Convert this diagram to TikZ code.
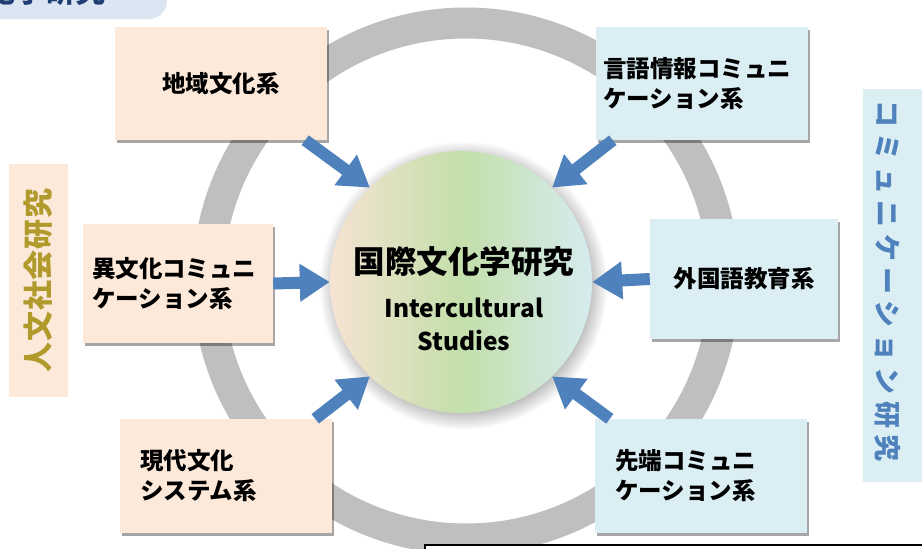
\documentclass[tikz,border=0pt]{standalone}
\usepackage{fontspec}
\setmainfont{Noto Sans CJK JP}
\newfontfamily\spacedfont{Noto Sans CJK JP}[LetterSpace=24]
\newfontfamily\leftlabfont{Noto Sans CJK JP}[LetterSpace=3]
\usetikzlibrary{arrows.meta,shadows,calc}
\definecolor{peach}{HTML}{FDE9DA}
\definecolor{paleblue}{HTML}{DAEEF3}
\definecolor{ringgray}{HTML}{BFBFBF}
\definecolor{arrowblue}{HTML}{4F81BD}
\definecolor{olive}{HTML}{B09A2B}
\definecolor{tabblue}{HTML}{DCE6F2}
\definecolor{navy}{HTML}{1F3F74}
\definecolor{cpeach}{HTML}{F6E3D2}
\definecolor{cgreen}{HTML}{C3DFAA}
\definecolor{cblue}{HTML}{D6EBEF}
\begin{document}
\begin{tikzpicture}[x=1pt,y=-1pt,
  boxbase/.style={rectangle, inner ysep=0pt, font=\bfseries\fontsize{23.5}{30}\selectfont,
    drop shadow={shadow xshift=2pt, shadow yshift=-3pt, opacity=0.35, fill=black}},
  pbox/.style={boxbase, fill=peach},
  bbox/.style={boxbase, fill=paleblue},
  arr/.style={draw=arrowblue, line width=12pt, -{Triangle[length=30pt,width=36pt]}}]
\clip (0,0) rectangle (922,549);
% ring
\draw[ringgray, line width=31pt] (466,281) circle[radius=258];
% top-left tab
\fill[tabblue, rounded corners=18pt] (-40,-80) rectangle (167,19);
\node[anchor=south east, inner sep=0pt, text=navy, font=\bfseries\fontsize{30}{30}\selectfont] (tab) at (106,6) {国際文化学研究};
% side labels
\node[fill=peach, minimum width=59pt, minimum height=233pt, inner sep=0pt] (lbox) at (38.5,280.5) {};
\node[rotate=90, text=olive, font=\leftlabfont\bfseries\fontsize{30}{30}\selectfont] (llab) at (lbox.center) {人文社会研究};
\node[fill=paleblue, minimum width=70pt, minimum height=393pt, inner sep=0pt] (rbox) at (898,285.5) {};
\node[rotate=-90, text=arrowblue, font=\spacedfont\bfseries\fontsize{27}{27}\selectfont] (rlab) at (888,281) {コミュニケーション研究};
% boxes
\node[pbox, minimum width=212pt, minimum height=113pt] (b1) at (221,83.5) {地域文化系};
\node[pbox, minimum width=190pt, minimum height=119pt, text width=172pt, inner xsep=9pt, align=left] (b2) at (178,283.5) {異文化コミュニ\\ケーション系};
\node[pbox, minimum width=212pt, minimum height=114pt, text width=172pt, inner xsep=20pt, align=left] (b3) at (226,476) {現代文化\\システム系};
\node[bbox, minimum width=212pt, minimum height=113pt, text width=198pt, inner xsep=7pt, align=left] (b4) at (702,83.5) {言語情報コミュニ\\ケーション系};
\node[bbox, minimum width=188pt, minimum height=120pt] (b5) at (744,279) {外国語教育系};
\node[bbox, minimum width=212pt, minimum height=114pt, text width=172pt, inner xsep=20pt, align=left] (b6) at (701,476) {先端コミュニ\\ケーション系};
% central circle
\node[circle, minimum size=262pt, inner sep=0pt, left color=cpeach, right color=cblue, middle color=cgreen,
  circular drop shadow={shadow xshift=2pt, shadow yshift=-3pt, opacity=0.3, fill=black}] (c) at (461,282) {};
\node[font=\bfseries\fontsize{31.5}{31.5}\selectfont] (ct1) at ($(c.center)+(3,-20)$) {国際文化学研究};
\node[font=\bfseries\fontsize{24.5}{33}\selectfont, align=center] (ct2) at ($(c.center)+(3,42)$) {Intercultural\\Studies};
% arrows
\draw[arr] ($(b1.south east)+(-22,0)$) -- (c.134);
\draw[arr] (b2.east) -- (c.west);
\draw[arr] ($(b3.north east)+(-17,0)$) -- (c.226);
\draw[arr] ($(b4.south west)+(17,0)$) -- (c.46);
\draw[arr] (b5.west) -- (c.east);
\draw[arr] ($(b6.north west)+(15,0)$) -- (c.314);
% bottom frame
\node[draw=black, line width=2pt, fill=white, anchor=north west, minimum width=560pt, minimum height=40pt, inner sep=0pt] (frame) at (424,544) {};
\end{tikzpicture}
\end{document}
